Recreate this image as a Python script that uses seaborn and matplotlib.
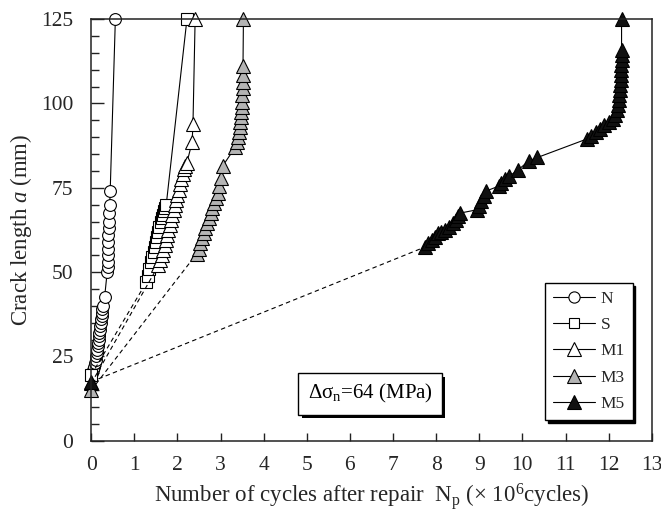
import matplotlib

matplotlib.use("Agg")

import matplotlib.pyplot as plt
import matplotlib.patheffects as pe
import numpy as np
import pandas as pd
import seaborn as sns
from matplotlib.lines import Line2D

# crack length a (mm) vs cycles after repair (x 10^6)
n_cycles = [0.02, 0.04, 0.06, 0.08, 0.10, 0.12, 0.13, 0.14, 0.15, 0.16, 0.17, 0.18,
            0.19, 0.20, 0.21, 0.22, 0.23, 0.24, 0.25, 0.26, 0.27, 0.31, 0.37, 0.38,
            0.38, 0.39, 0.39, 0.40, 0.40, 0.41, 0.42, 0.42, 0.43, 0.44, 0.56]
n_crack = [20, 21, 22, 23, 24, 25, 26, 27, 28, 29, 30, 31, 32, 33, 34, 35, 36, 37, 38,
           39, 40, 42.5, 50, 51.5, 53, 55, 57, 59, 61, 63, 65, 67.5, 70, 74, 125]

s_cycles = [0.0, 1.28, 1.32, 1.35, 1.38, 1.42, 1.45, 1.48, 1.50, 1.53, 1.56, 1.58,
            1.61, 1.64, 1.66, 1.69, 1.72, 1.74, 2.22]
s_crack = [19.5, 47, 49, 51, 53, 54.5, 56, 57.5, 59, 60.5, 62, 63.5, 65, 66, 67, 68,
           69, 70, 125]

m1_cycles = [0.0, 1.56, 1.60, 1.64, 1.67, 1.70, 1.73, 1.76, 1.79, 1.82, 1.85, 1.88,
             1.91, 1.94, 1.97, 2.00, 2.03, 2.06, 2.09, 2.12, 2.15, 2.18, 2.22, 2.34,
             2.36, 2.41]
m1_crack = [17, 52, 53.5, 55, 56.5, 58, 59.5, 61, 62.5, 64, 65.5, 67, 68.5, 70, 71.5,
            73, 74.5, 76, 77.5, 79, 80.5, 81.5, 82.5, 88.5, 94, 125]

m3_cycles = [0.0, 2.45, 2.49, 2.53, 2.57, 2.61, 2.65, 2.69, 2.73, 2.77, 2.81, 2.85,
             2.89, 2.93, 2.97, 3.01, 3.05, 3.34, 3.37, 3.40, 3.42, 3.44, 3.46, 3.47,
             3.48, 3.49, 3.50, 3.50, 3.51, 3.51, 3.52, 3.52, 3.53]
m3_crack = [15, 55.5, 57, 58.5, 60, 61.5, 63, 64.5, 66, 67.5, 69, 70.5, 72, 73.5, 75.5,
            78, 81.5, 87, 88.5, 90, 91.5, 93, 94.5, 96, 97.5, 99, 100.5, 102.5, 104.5,
            106.5, 108.5, 111, 125]

m5_cycles = [0.0, 7.75, 7.82, 7.90, 7.98, 8.05, 8.12, 8.20, 8.30, 8.38, 8.45, 8.50,
             8.55, 8.95, 9.00, 9.05, 9.10, 9.15, 9.45, 9.50, 9.60, 9.70, 9.90, 10.15,
             10.35, 11.50, 11.60, 11.70, 11.80, 11.90, 12.00, 12.10, 12.15, 12.20,
             12.22, 12.24, 12.25, 12.26, 12.27, 12.28, 12.28, 12.29, 12.29, 12.30,
             12.30, 12.30, 12.30]
m5_crack = [17.5, 57.5, 58.5, 59.5, 60.5, 61.5, 62.0, 62.5, 63.5, 64.5, 65.5, 66.5,
            67.5, 68.5, 69.5, 71.0, 72.5, 74.0, 75.5, 76.5, 77.5, 78.5, 80.3, 83.0,
            84.0, 89.5, 90.5, 91.5, 92.5, 93.5, 94.5, 95.5, 96.5, 98.0, 99.5, 101.0,
            102.5, 104.0, 105.5, 107.0, 108.5, 110.0, 111.5, 113.0, 114.5, 116.0, 125.0]

series_labels = ["N", "S", "M1", "M3", "M5"]
stress_text = "Δσ$_\\mathrm{n}$=64 (MPa)"

sns.set_theme(style="ticks")
plt.rcParams["font.family"] = ["Liberation Serif", "DejaVu Serif"]
plt.rcParams["mathtext.fontset"] = "custom"
plt.rcParams["mathtext.rm"] = "Liberation Serif"
plt.rcParams["mathtext.it"] = "Liberation Serif:italic"

styles = {
    "N": dict(marker="o", mfc="white", ms=8.5, dashed_start=False),
    "S": dict(marker="s", mfc="white", ms=8, dashed_start=True),
    "M1": dict(marker="^", mfc="white", ms=10, dashed_start=True),
    "M3": dict(marker="^", mfc="#b4b4b4", ms=10, dashed_start=True),
    "M5": dict(marker="^", mfc="#111111", ms=10, dashed_start=True),
}

data = {
    "N": (n_cycles, n_crack),
    "S": (s_cycles, s_crack),
    "M1": (m1_cycles, m1_crack),
    "M3": (m3_cycles, m3_crack),
    "M5": (m5_cycles, m5_crack),
}

fig, ax = plt.subplots(figsize=(6.61, 5.18), dpi=100)
fig.subplots_adjust(left=0.138, right=0.986, bottom=0.149, top=0.963)

for label in series_labels:
    xs, ys = data[label]
    st = styles[label]
    frame = pd.DataFrame({"cycles": xs, "crack": ys})
    if st["dashed_start"]:
        sns.lineplot(data=frame.iloc[:2], x="cycles", y="crack", sort=False,
                     estimator=None, color="black", lw=0.8, linestyle=(0, (4, 3)),
                     ax=ax)
        sns.lineplot(data=frame.iloc[:1], x="cycles", y="crack", sort=False,
                     estimator=None, color="black", lw=0, marker=st["marker"],
                     ms=st["ms"], mfc=st["mfc"], mec="black", mew=0.8,
                     clip_on=False, ax=ax)
        body = frame.iloc[1:]
    else:
        body = frame
    sns.lineplot(data=body, x="cycles", y="crack", sort=False, estimator=None,
                 color="black", lw=0.8, marker=st["marker"], ms=st["ms"],
                 mfc=st["mfc"], mec="black", mew=0.8, clip_on=False, ax=ax)

ax.set_xlim(0, 13)
ax.set_ylim(0, 125)
ax.set_xticks(np.arange(0, 14, 1))
ax.set_yticks(np.arange(0, 126, 25))
ax.set_yticks(np.arange(0, 126, 5), minor=True)
ax.tick_params(axis="both", which="both", direction="in", top=False, right=False,
               labelsize=15.5, width=1.0, color="#222222")
ax.tick_params(axis="x", which="major", length=6, pad=11)
ax.tick_params(axis="y", which="major", length=9, pad=13)
ax.tick_params(axis="y", which="minor", length=5.5)
for spine in ax.spines.values():
    spine.set_linewidth(1.1)
    spine.set_color("#222222")

ax.set_xlabel("Number of cycles after repair  N$_\\mathrm{p}$ (× 10$^6$cycles)",
              fontsize=16.5, labelpad=4)
ax.set_ylabel("Crack length $a$ (mm)", fontsize=16.5, labelpad=5)

handles = [
    Line2D([], [], color="black", lw=0.8, marker=styles[k]["marker"],
           ms=styles[k]["ms"] * 0.95, mfc=styles[k]["mfc"], mec="black", mew=0.8)
    for k in series_labels
]
leg = ax.legend(handles, series_labels, loc="lower right",
                bbox_to_anchor=(0.966, 0.05), frameon=True, fancybox=False,
                shadow={"color": "black", "alpha": 1.0}, fontsize=12.5,
                handlelength=2.4, labelspacing=0.58, borderpad=0.45,
                handletextpad=0.35, borderaxespad=0)
leg.get_frame().set_edgecolor("black")
leg.get_frame().set_linewidth(1.0)

# text box with a solid shadow offset behind it
note = ax.text(6.47, 13.9, stress_text, ha="center", va="center", fontsize=15,
               color="black",
               bbox=dict(boxstyle="square,pad=0.45", fc="white", ec="black", lw=1))
note.get_bbox_patch().set_path_effects([
    pe.SimplePatchShadow(offset=(2.5, -2.5), shadow_rgbFace="black", alpha=1.0),
    pe.Normal(),
])

fig.savefig("out.png", dpi=100)
